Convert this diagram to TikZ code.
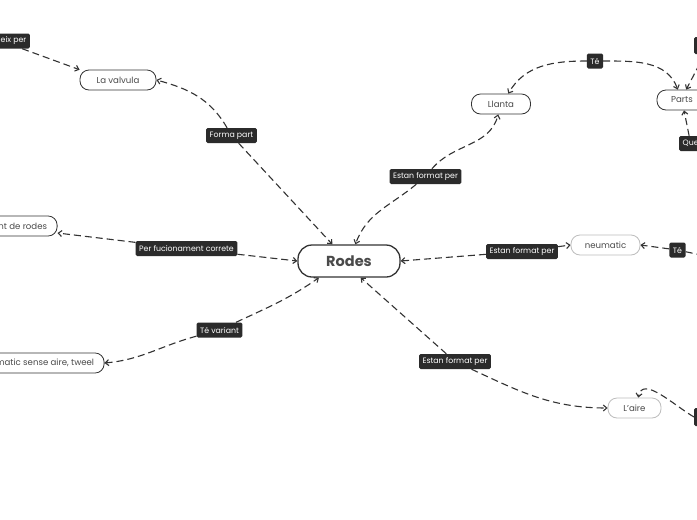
\documentclass[tikz,border=0pt]{standalone}
\usepackage{fontspec}
\setmainfont{Poppins}
\usepackage{xcolor}
\usepackage{tikz}
\usetikzlibrary{positioning, arrows.meta, calc}

\definecolor{lblfill}{HTML}{2B2B2B}
\definecolor{ink}{HTML}{333333}
\definecolor{softline}{HTML}{BDBDBD}
\definecolor{txtgray}{HTML}{4A4A4A}

\tikzset{
  topic/.style={draw=ink, line width=0.8pt, rounded corners=9pt, minimum height=20pt, inner xsep=10pt, font=\fontsize{8.6}{10}\selectfont, text=txtgray, fill=white},
  softtopic/.style={topic, draw=softline},
  lbl/.style={fill=lblfill, text=white, rounded corners=1.5pt, font=\fontsize{7.8}{9}\selectfont, minimum height=15pt, inner xsep=3.5pt},
  link/.style={-{Straight Barb[length=3.5pt,width=6pt]}, ink, line width=1.1pt, dash pattern=on 7pt off 4pt},
}

\begin{document}
\begin{tikzpicture}[x=1pt,y=-1pt]
  \useasboundingbox[fill=white] (0,0) rectangle (697,520);
  \clip (0,0) rectangle (697,520);

  % centre
  \node[topic, line width=1.3pt, rounded corners=14pt, minimum width=102pt, minimum height=32pt, font=\fontsize{14.5}{16}\selectfont\bfseries, text=txtgray] (rodes) at (349,261) {Rodes};

  % topics
  \node[topic, minimum width=76pt] (valvula) at (118,80) {La valvula};
  \node[topic, minimum width=59pt] (llanta) at (501,104) {Llanta};
  \node[topic, minimum width=50pt] (parts) at (682,100) {Parts};
  \node[softtopic, minimum width=69pt] (neumatic) at (605.5,245) {neumatic};
  \node[softtopic, minimum width=53pt] (aire) at (634.5,408) {L'aire};
  \node[topic, anchor=east] (manteniment) at (57.5,226) {Manteniment de rodes};
  \node[topic, anchor=east] (tweel) at (104.5,363) {Neumatic sense aire, tweel};

  % labels
  \node[lbl] (formapart) at (231.5,135.5) {Forma part};
  \node[lbl] (efpllanta) at (425.5,176.5) {Estan format per};
  \node[lbl] (perfuc) at (186.5,248.5) {Per fucionament correte};
  \node[lbl] (efpneum) at (522,251.5) {Estan format per};
  \node[lbl] (tevariant) at (219.5,330) {Té variant};
  \node[lbl] (efpaire) at (455,361.5) {Estan format per};
  \node[lbl] (tellanta) at (595,61) {Té};
  \node[lbl] (teneum) at (677.5,250) {Té};
  \node[lbl, anchor=east] (coneix) at (30,41) {Es coneix per};
  \node[lbl, anchor=west] (que) at (679,143.5) {Que\hspace{24pt}};
  \node[lbl, anchor=west, minimum width=30pt, minimum height=17pt] (dalt) at (694,45.5) {};
  \node[lbl, anchor=west, minimum width=30pt, minimum height=18pt] (baix) at (694,417) {};
  \coordinate (dreta) at (720,259);

  % links
  \draw[link] (formapart) -- (rodes.135);
  \draw[link] (formapart) to[out=120,in=-15] (valvula.east);
  \draw[link] (coneix) -- (valvula.165);
  \draw[link] (efpllanta) to[out=50,in=-105] (llanta.-105);
  \draw[link] (efpllanta) to[out=-140,in=70] (rodes.69);
  \draw[link] (perfuc) -- ([yshift=-7pt]manteniment.east);
  \draw[link] (perfuc) -- (rodes.west);
  \draw[link] (efpneum) -- (rodes.east);
  \draw[link] (efpneum) -- (neumatic.west);
  \draw[link] (teneum) -- (neumatic.east);
  \draw[link, -] (teneum) -- (dreta);
  \draw[link] (tevariant) to[out=-165,in=5] (tweel.east);
  \draw[link] (tevariant) to[out=25,in=-145] (rodes.209);
  \draw[link] (efpaire) -- (rodes.-55);
  \draw[link] (efpaire) to[out=-25,in=180] (aire.west);
  \draw[link] (tellanta) to[out=180,in=60] (llanta.55);
  \draw[link] (tellanta) to[out=0,in=110] (parts.112);
  \draw[link] (dalt) -- (parts.68);
  \draw[link] (que) -- (parts.-79);
  \draw[link] (baix.west) to[out=150,in=80] (aire.70);
\end{tikzpicture}
\end{document}
